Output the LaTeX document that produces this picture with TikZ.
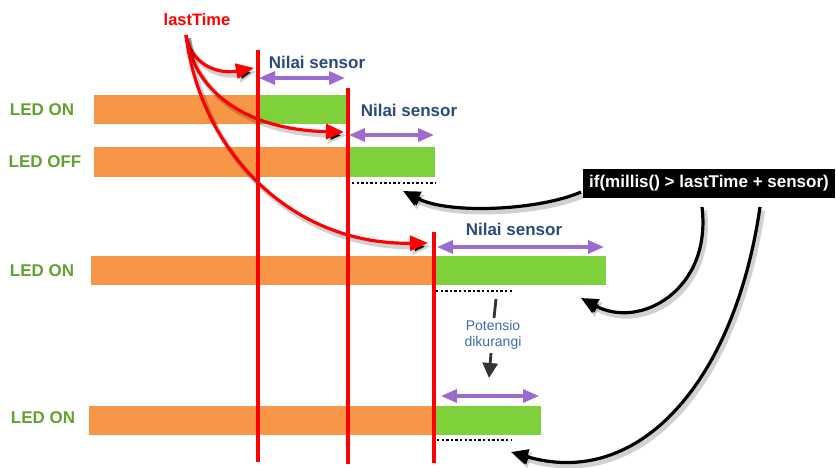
\documentclass[tikz,border=0pt]{standalone}
\usepackage{fontspec}
\setmainfont{Liberation Sans}
\usetikzlibrary{arrows.meta}
\definecolor{barorange}{HTML}{F79646}
\definecolor{bargreen}{HTML}{7ED13B}
\definecolor{ledgreen}{HTML}{64A030}
\definecolor{nilaiblue}{HTML}{2B4A7C}
\definecolor{potblue}{HTML}{3A6CB0}
\definecolor{spanpurple}{HTML}{9B6BD0}
\definecolor{potgray}{HTML}{333333}
\tikzset{
  ledlabel/.style={text=ledgreen, font=\fontsize{17}{20}\selectfont\bfseries, inner sep=0pt},
  nilai/.style={text=nilaiblue, font=\fontsize{17}{20}\selectfont\bfseries, inner sep=0pt},
  redline/.style={draw=red, line width=3.2pt},
  softshadow/.style={preaction={draw=black, draw opacity=0.18, line width=5pt, transform canvas={xshift=2.5pt,yshift=-3.5pt}}},
  redarrow/.style={draw=red, line width=3.2pt, -{Triangle[length=18pt,width=15pt]}, softshadow},
  blackarrow/.style={draw=black, line width=3.2pt, -{Triangle[length=17pt,width=15pt]}, softshadow},
  span/.style={draw=spanpurple, line width=3.4pt, {Triangle[length=16pt,width=13pt]}-{Triangle[length=16pt,width=13pt]}},
  dotline/.style={draw=black, line width=2.5pt, dash pattern=on 2.4pt off 2.2pt},
}
\begin{document}
\begin{tikzpicture}[x=1pt,y=-1pt]
\useasboundingbox (0,0) rectangle (836,468);
% bars
\fill[barorange] (94,95) rectangle (258,124);
\fill[bargreen] (258,95) rectangle (347,124);
\fill[barorange] (94,147) rectangle (348,177);
\fill[bargreen] (348,147) rectangle (435,177);
\fill[barorange] (91,256) rectangle (435,285);
\fill[bargreen] (435,256) rectangle (606,285);
\fill[barorange] (89,406) rectangle (435,435);
\fill[bargreen] (435,406) rectangle (541,435);
% LED labels
\node[ledlabel] (led1) at (42,110) {LED ON};
\node[ledlabel] (led2) at (45,162) {LED OFF};
\node[ledlabel] (led3) at (42,271) {LED ON};
\node[ledlabel] (led4) at (43,418) {LED ON};
% lastTime
\node[text=red, font=\fontsize{16.5}{20}\selectfont\bfseries, inner sep=0pt] (lt) at (197,20) {lastTime};
\coordinate (ltfoot) at (186,35);
\coordinate (t1) at (254,68);
\coordinate (t2) at (344,132);
\coordinate (t3) at (428,243);
\draw[redarrow] (ltfoot) .. controls (190,62) and (215,75) .. (t1);
\draw[redarrow] (ltfoot) .. controls (195,95) and (250,130) .. (t2);
\draw[redarrow] (ltfoot) .. controls (200,150) and (290,245) .. (t3);
% red vertical lines
\draw[redline] (258,50) -- (258,462);
\draw[redline] (348,88) -- (348,464);
\draw[redline] (434,232) -- (434,463);
% spans
\draw[span] (259,78) -- (345,78);
\draw[span] (349,135) -- (434,135);
\draw[span] (437,247) -- (604,247);
\draw[span] (441,396) -- (539,396);
% Nilai sensor labels
\node[nilai] (ns1) at (317,62) {Nilai sensor};
\node[nilai] (ns2) at (409,110) {Nilai sensor};
\node[nilai] (ns3) at (514,229) {Nilai sensor};
% dotted lines
\draw[dotline] (352,183) -- (435,183);
\draw[dotline] (436,291) -- (512,291);
\draw[dotline] (437,440) -- (512,440);
% condition box
\node[fill=black, text=white, font=\fontsize{17}{20}\selectfont\bfseries, minimum width=252pt, minimum height=29pt, inner sep=0pt] (cond) at (709,183.5) {if(millis() > lastTime + sensor)};
\coordinate (c1) at (581,192);
\coordinate (c2) at (702,207);
\coordinate (c3) at (760,207);
\coordinate (e1) at (403,191);
\coordinate (e2) at (581,298);
\coordinate (e3) at (511,452);
\draw[blackarrow] (c1) .. controls (540,210) and (450,215) .. (e1);
\draw[blackarrow] (c2) .. controls (712,290) and (640,330) .. (e2);
\draw[blackarrow] (c3) .. controls (735,380) and (640,490) .. (e3);
% Potensio dikurangi
\node[text=potblue, font=\fontsize{14}{16.5}\selectfont, align=center, inner sep=0pt] (pot) at (493,335) {Potensio\\dikurangi};
\coordinate (p1) at (496,299);
\coordinate (p2) at (494,318);
\coordinate (p3) at (491,353);
\coordinate (p4) at (489,378);
\draw[potgray, line width=2.8pt] (p1) -- (p2);
\draw[potgray, line width=2.8pt, -{Triangle[length=15pt,width=15pt]}] (p3) -- (p4);
\end{tikzpicture}
\end{document}
